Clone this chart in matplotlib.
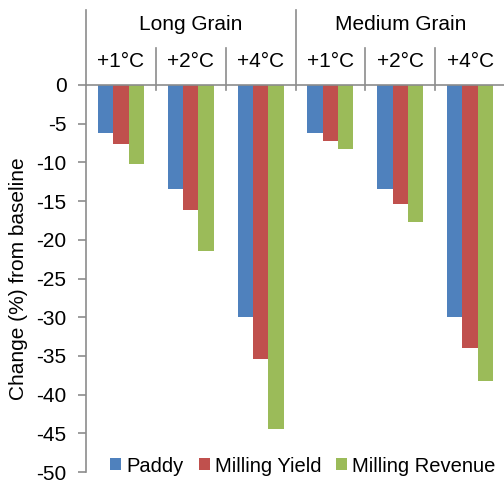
import matplotlib
matplotlib.use("Agg")
import matplotlib.pyplot as plt
import numpy as np

plt.rcParams["font.family"] = ["Liberation Sans", "DejaVu Sans"]
plt.rcParams["axes.unicode_minus"] = False

grains = ["Long Grain", "Medium Grain"]
warming = ["+1°C", "+2°C", "+4°C"]
series = ["Paddy", "Milling Yield", "Milling Revenue"]

# values in grain order then warming order
paddy = [-6.2, -13.5, -30.0, -6.2, -13.5, -30.0]
milling_yield = [-7.6, -16.2, -35.4, -7.2, -15.4, -34.0]
milling_revenue = [-10.2, -21.4, -44.5, -8.3, -17.7, -38.3]

colors = ["#4F81BD", "#C0504D", "#9BBB59"]
axis_color = "#8C8C8C"
fs = 15

W, H = 504, 482
left_px, right_px = 86, 505
top_px, bottom_px = 85, 472

fig = plt.figure(figsize=(W / 100, H / 100), dpi=100)
ax = fig.add_axes([left_px / W, 1 - bottom_px / H,
                   (right_px - left_px) / W, (bottom_px - top_px) / H])

n = len(grains) * len(warming)
x = np.arange(n) + 0.5
width = 0.22
for k, (vals, c, lab) in enumerate(zip([paddy, milling_yield, milling_revenue], colors, series)):
    ax.bar(x + (k - 1) * width, vals, width=width, color=c, label=lab, zorder=2)

ax.set_xlim(0, n)
ax.set_ylim(-50, 0)
ax.set_yticks(np.arange(-50, 1, 5))
ax.set_xticks([])
for s in ["bottom", "right"]:
    ax.spines[s].set_visible(False)
for s in ["top", "left"]:
    ax.spines[s].set_color(axis_color)
    ax.spines[s].set_linewidth(1.2)
ax.tick_params(axis="y", direction="out", length=6, width=1.2, color=axis_color,
               labelsize=fs, pad=8)

ax_h = bottom_px - top_px
tr = ax.get_xaxis_transform()

def yfrac(px):
    # pixel row in the figure -> axes fraction
    return (bottom_px - px) / ax_h

# category boundary ticks
for b in [1, 2, 4, 5]:
    ax.plot([b, b], [yfrac(48), yfrac(90)], color=axis_color, lw=1.2,
            transform=tr, clip_on=False)
# group separators
for b in [0, 3, 6]:
    ax.plot([b, b], [yfrac(10), yfrac(90) if b else 1], color=axis_color, lw=1.2,
            transform=tr, clip_on=False)

for i in range(n):
    ax.text(x[i], yfrac(67), warming[i % len(warming)], transform=tr,
            ha="center", va="baseline", fontsize=fs)
for g, name in enumerate(grains):
    ax.text(g * len(warming) + len(warming) / 2, yfrac(30), name, transform=tr,
            ha="center", va="baseline", fontsize=fs)

fig.text(19 / W, 1 - (top_px + bottom_px) / 2 / H, "Change (%) from baseline",
         rotation=90, ha="center", va="center", fontsize=fs)

fig.legend(loc="center", bbox_to_anchor=(303 / W, 1 - 466 / H), ncol=3,
           frameon=False, fontsize=14.5, handlelength=0.55, handleheight=0.55,
           handletextpad=0.25, columnspacing=0.75, borderpad=0, borderaxespad=0)

fig.savefig("out.png", dpi=100)
